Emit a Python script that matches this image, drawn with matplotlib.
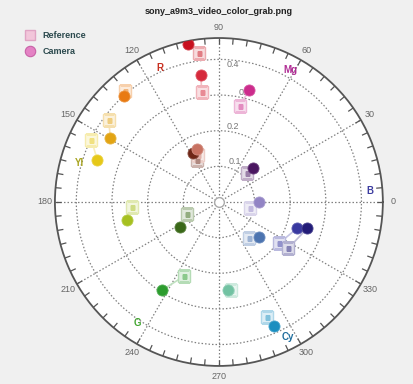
import numpy as np
import matplotlib
matplotlib.use("Agg")
import matplotlib.pyplot as plt
from matplotlib.colors import to_rgb
from matplotlib.lines import Line2D

plt.rcParams['font.family'] = ['Liberation Sans', 'DejaVu Sans']

# ── Chart data: vectorscope hue angle (deg) and saturation radius ─────────
PATCH_COLORS = ["#c8101e", "#d62a3c", "#cc2c8c", "#e87a12", "#e2a414",
                "#e6c818", "#6e2616", "#c87262", "#4a1660", "#9284c4",
                "#4c74b0", "#3838a0", "#221c78", "#a6c020", "#3a6818",
                "#2c9c2e", "#72c2a2", "#1a8ec0"]

REF_ANGLE  = [97.7, 98.9, 77.7, 130.2, 143.3, 154.0, 117.6, 114.0, 46.0, 349.0,
              309.8, 325.7, 326.3, 183.3, 200.6, 244.7, 277.8, 292.7]
REF_RADIUS = [0.421, 0.311, 0.277, 0.406, 0.386, 0.398, 0.134, 0.145, 0.114, 0.089,
              0.132, 0.205, 0.234, 0.243, 0.096, 0.231, 0.250, 0.351]

CAM_ANGLE  = [101.2, 98.1, 74.9, 132.1, 149.3, 160.9, 118.0, 112.5, 45.0, 0.0,
              318.8, 341.6, 343.5, 191.1, 212.7, 237.1, 275.8, 294.1]
CAM_RADIUS = [0.451, 0.359, 0.324, 0.399, 0.354, 0.361, 0.156, 0.162, 0.135, 0.113,
              0.150, 0.232, 0.259, 0.264, 0.131, 0.295, 0.249, 0.380]

TARGET_LABELS = ["R", "Mg", "B", "Cy", "G", "Yl"]
TARGET_ANGLE  = [113.8, 61.7, 4.2, 297.1, 236.0, 164.3]
TARGET_RADIUS = [0.412, 0.422, 0.424, 0.427, 0.408, 0.407]
TARGET_COLORS = ["#c83020", "#b02c94", "#3c3ca0", "#1e6c9c", "#44a632", "#a8a420"]

RING_VALUES  = [0.1, 0.2, 0.3, 0.4]
RING_LABEL_ANGLE  = [68.0, 79.4, 76.6, 84.0]
RING_LABEL_RADIUS = [0.121, 0.215, 0.316, 0.388]

ANGLE_TICKS = list(range(0, 360, 30))
R_MAX = 0.46

TITLE = "sony_a9m3_video_color_grab.png"


def tint(color, amount):
    """Blend a colour towards white by `amount` (0 = unchanged, 1 = white)."""
    c = np.array(to_rgb(color))
    return tuple(c + (1.0 - c) * amount)


fig = plt.figure(figsize=(4.13, 3.84), dpi=100, facecolor="#f0f0f0")
ax = fig.add_axes([0.133, 0.047, 0.794, 0.854], projection="polar")
ax.set_facecolor("white")
ax.set_ylim(0, R_MAX)

# outer rim
ax.spines["polar"].set_color("#555555")
ax.spines["polar"].set_linewidth(1.3)

# angular grid with labels just outside the rim
ax.set_thetagrids(ANGLE_TICKS, [str(a) for a in ANGLE_TICKS])
ax.tick_params(axis="x", labelsize=6.5, labelcolor="#666666", pad=-3)
ax.set_rgrids(RING_VALUES, labels=[])
ax.grid(True, color="#808080", linestyle=(0, (1.2, 1.6)), linewidth=0.9)

# short inward ticks every 5 degrees on the rim
for a in np.deg2rad(np.arange(0, 360, 5)):
    ax.plot([a, a], [R_MAX - 0.017, R_MAX], color="#555555", lw=0.9,
            solid_capstyle="butt", zorder=3)

for ang, rad, val in zip(RING_LABEL_ANGLE, RING_LABEL_RADIUS, RING_VALUES):
    ax.text(np.deg2rad(ang), rad, f"{val:g}", fontsize=6.5, color="#777777",
            ha="center", va="center", zorder=2)

# white point marker at the centre
ax.plot([0], [0], marker="o", ms=7, mfc="white", mec="#aaaaaa", mew=1.0, zorder=4)

# pairs: reference squares, camera dots, and the line joining them
ref_t = np.deg2rad(REF_ANGLE)
cam_t = np.deg2rad(CAM_ANGLE)
for i, col in enumerate(PATCH_COLORS):
    ax.plot([ref_t[i], cam_t[i]], [REF_RADIUS[i], CAM_RADIUS[i]],
            color=tint(col, 0.7), lw=1.2, zorder=4)
    ax.plot(ref_t[i], REF_RADIUS[i], marker="s", ms=8.5,
            mfc=tint(col, 0.85), mec=tint(col, 0.65), mew=1.0, zorder=5)
    ax.plot(ref_t[i], REF_RADIUS[i], marker="s", ms=3.6,
            mfc=tint(col, 0.45), mec="none", zorder=6)

for i, col in enumerate(PATCH_COLORS):
    ax.plot(cam_t[i], CAM_RADIUS[i], marker="o", ms=8, mfc=col,
            mec=tint(col, 0.2), mew=0.6, zorder=7)

for lab, ang, rad, col in zip(TARGET_LABELS, TARGET_ANGLE, TARGET_RADIUS, TARGET_COLORS):
    ax.text(np.deg2rad(ang), rad, lab, fontsize=7, fontweight="bold", color=col,
            ha="center", va="center", zorder=8)

# legend
handles = [
    Line2D([], [], ls="none", marker="s", ms=7, mfc="#f2c6da", mec="#e0a4c4", mew=1.0),
    Line2D([], [], ls="none", marker="o", ms=7.5, mfc="#e482c4", mec="#c862a6", mew=0.8),
]
leg = fig.legend(handles, ["Reference", "Camera"], loc="upper left",
                 bbox_to_anchor=(0.035, 0.935), frameon=False, fontsize=6.5,
                 handletextpad=0.4, labelspacing=0.75, borderpad=0.2)
for t in leg.get_texts():
    t.set_color("#2c4a4e")
    t.set_fontweight("bold")

fig.text(219 / 413, 1 - 12 / 384, TITLE, ha="center", va="center",
         fontsize=6.5, fontweight="bold", color="#222222")

fig.savefig("out.png", dpi=100, facecolor=fig.get_facecolor())
